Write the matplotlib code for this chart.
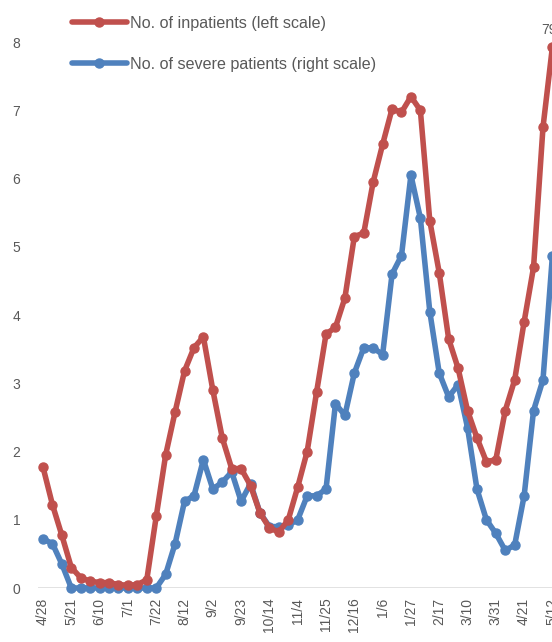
import matplotlib
matplotlib.use('Agg')
import matplotlib.pyplot as plt

# weekly series, 4/28 .. 5/12 of next year
inpatients = [1.77, 1.22, 0.77, 0.30, 0.15, 0.10, 0.08, 0.08, 0.05, 0.04,
              0.05, 0.12, 1.05, 1.95, 2.58, 3.18, 3.52, 3.68, 2.90, 2.20,
              1.75, 1.75, 1.50, 1.10, 0.88, 0.82, 1.00, 1.48, 2.00, 2.87,
              3.72, 3.82, 4.25, 5.15, 5.20, 5.95, 6.50, 7.02, 6.97, 7.20,
              7.00, 5.38, 4.62, 3.65, 3.22, 2.60, 2.20, 1.85, 1.88, 2.60,
              3.05, 3.90, 4.70, 6.75, 7.93]
severe = [0.72, 0.65, 0.35, 0.00, 0.00, 0.00, 0.00, 0.00, 0.00, 0.00,
          0.00, 0.00, 0.00, 0.20, 0.65, 1.27, 1.35, 1.88, 1.45, 1.55,
          1.70, 1.27, 1.53, 1.10, 0.90, 0.90, 0.92, 1.00, 1.35, 1.35,
          1.45, 2.70, 2.53, 3.15, 3.52, 3.52, 3.42, 4.60, 4.87, 6.05,
          5.42, 4.05, 3.15, 2.80, 2.98, 2.35, 1.45, 1.00, 0.80, 0.55,
          0.63, 1.35, 2.60, 3.05, 4.87]
tick_labels = ['4/28', '5/21', '6/10', '7/1', '7/22', '8/12', '9/2', '9/23',
               '10/14', '11/4', '11/25', '12/16', '1/6', '1/27', '2/17',
               '3/10', '3/31', '4/21', '5/12']
last_label = '79'

RED = '#C0504D'
BLUE = '#4F81BD'
GRAY = '#595959'

plt.rcParams['font.family'] = ['Liberation Sans', 'DejaVu Sans']

fig = plt.figure(figsize=(5.52, 6.42), dpi=100)
ax = fig.add_axes([0.0694, 0.0841, 0.957, 0.9159])
ax2 = ax.twinx()

x = list(range(len(inpatients)))
l1, = ax.plot(x, inpatients, color=RED, lw=4, marker='o', ms=6.5, clip_on=False,
              label='No. of inpatients (left scale)', solid_capstyle='round')
l2, = ax2.plot(x, severe, color=BLUE, lw=4, marker='o', ms=6.5, clip_on=False,
               label='No. of severe patients (right scale)', solid_capstyle='round')
ax.set_zorder(ax2.get_zorder() + 1)
ax.patch.set_visible(False)

ymax = 8 + 42 / 68.25
for a in (ax, ax2):
    a.set_xlim(-0.5, 55.5)
    a.set_ylim(0, ymax)
    for s in a.spines.values():
        s.set_visible(False)
ax2.set_yticks([])

ax2.axhline(0, color='#D9D9D9', lw=1.8, zorder=0)
ax.set_yticks(range(0, 9))
ax.set_xticks(range(0, len(inpatients), 3))
ax.set_xticklabels(tick_labels, rotation=90)
ax.tick_params(axis='y', length=0, pad=13, labelsize=10, labelcolor=GRAY)
ax.tick_params(axis='x', length=0, pad=7, labelsize=10, labelcolor=GRAY)

ax.annotate(last_label, xy=(x[-1], inpatients[-1]), xytext=(-8, 7),
            textcoords='offset points', ha='left', va='bottom',
            fontsize=10, color=GRAY, annotation_clip=False)

fig.legend(handles=[l1, l2], loc='upper left', bbox_to_anchor=(72 / 552, 1 - 16 / 642),
           frameon=False, fontsize=11.6, handlelength=3.4, handletextpad=0.2,
           labelspacing=1.6, borderpad=0, borderaxespad=0, labelcolor=GRAY)

fig.savefig('out.png', dpi=100)
